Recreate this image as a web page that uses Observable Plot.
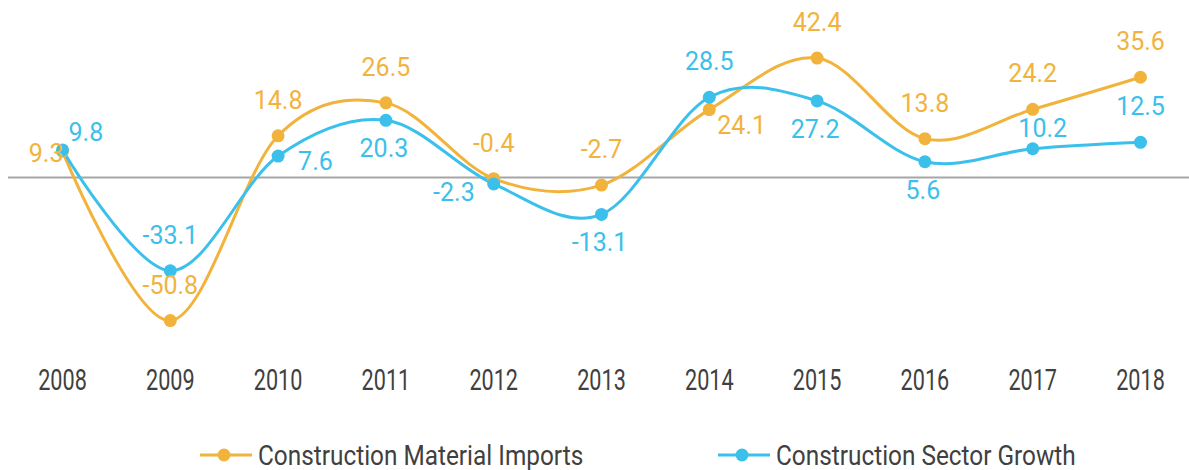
<!DOCTYPE html>
<html>
<head>
<meta charset="utf-8">
<script src="https://cdn.jsdelivr.net/npm/d3@7"></script>
<script src="https://cdn.jsdelivr.net/npm/@observablehq/plot@0.6"></script>
<style>
  html, body { margin: 0; padding: 0; background: #fff; }
  #wrap { position: relative; width: 1189px; height: 470px; font-family: Roboto, sans-serif; }
  .leg { position: absolute; top: 438px; height: 34px; display: flex; align-items: center; font-size: 28px; color: #404040; white-space: nowrap; }
  .leg svg { margin-right: 6px; flex: none; }
  .leg span { display: inline-block; transform: scaleX(0.87); transform-origin: left center; }
</style>
</head>
<body>
<div id="wrap"></div>
<script>
const years = ["2008","2009","2010","2011","2012","2013","2014","2015","2016","2017","2018"];
const seriesNames = ["Construction Material Imports", "Construction Sector Growth"];
const imports = [9.3, -50.8, 14.8, 26.5, -0.4, -2.7, 24.1, 42.4, 13.8, 24.2, 35.6];
const growth  = [9.8, -33.1, 7.6, 20.3, -2.3, -13.1, 28.5, 27.2, 5.6, 10.2, 12.5];
const importsLabelPos = ["left","above","above","above","above","above","lowerRight","above","above","above","above"];
const growthLabelPos  = ["upperRight","above","right","below","lowerLeft","below","above","below","below","aboveRight","above"];

const colors = ["#F2B33D", "#3BC0EB"];
const posStyle = {
  above:      {textAnchor: "middle", dx: 0,   dy: -35},
  below:      {textAnchor: "middle", dx: -2,  dy: 29},
  left:       {textAnchor: "end",    dx: 1,   dy: 3},
  right:      {textAnchor: "start",  dx: 20,  dy: 6},
  upperRight: {textAnchor: "start",  dx: 6,   dy: -17},
  lowerRight: {textAnchor: "start",  dx: 8,   dy: 16},
  lowerLeft:  {textAnchor: "end",    dx: -19, dy: 9},
  aboveRight: {textAnchor: "middle", dx: 10,  dy: -20}
};

const rows = [];
years.forEach((y, i) => {
  rows.push({year: y, series: seriesNames[0], value: imports[i], pos: importsLabelPos[i]});
  rows.push({year: y, series: seriesNames[1], value: growth[i], pos: growthLabelPos[i]});
});

const marks = [Plot.ruleY([0], {stroke: "#A6A6A6", strokeWidth: 2})];
seriesNames.forEach((s, k) => {
  const d = rows.filter(r => r.series === s);
  marks.push(Plot.line(d, {x: "year", y: "value", stroke: colors[k], strokeWidth: 3, curve: "cardinal"}));
});
seriesNames.forEach((s, k) => {
  const d = rows.filter(r => r.series === s);
  marks.push(Plot.dot(d, {x: "year", y: "value", fill: colors[k], r: 6.5}));
});
seriesNames.forEach((s, k) => {
  const d = rows.filter(r => r.series === s);
  for (const [key, st] of Object.entries(posStyle)) {
    const sub = d.filter(r => r.pos === key);
    if (!sub.length) continue;
    marks.push(Plot.text(sub, {
      x: "year", y: "value", text: r => r.value.toFixed(1),
      fill: colors[k], fontSize: 25, lineAnchor: "middle",
      textAnchor: st.textAnchor, dx: st.dx, dy: st.dy
    }));
  }
});
marks.push(Plot.axisX({tickSize: 0, tickPadding: 22, fontSize: 30, ariaLabel: "x-axis"}));

const chart = Plot.plot({
  width: 1189,
  height: 430,
  marginTop: 8,
  marginBottom: 84,
  marginLeft: 8,
  marginRight: 0,
  style: {fontFamily: "Roboto, sans-serif", color: "#404040", background: "#fff"},
  x: {type: "point", domain: years, range: [62, 1140], padding: 0, round: false, label: null},
  y: {domain: [-60, 60], axis: null},
  marks
});
const wrap = document.getElementById("wrap");
wrap.appendChild(chart);

// condense the axis tick labels (reference uses a condensed face)
chart.querySelectorAll('g[aria-label="x-axis"] text, g[aria-label="x-axis tick label"] text').forEach(t => {
  const len = t.getComputedTextLength();
  t.setAttribute("textLength", (len * 0.72).toFixed(1));
  t.setAttribute("lengthAdjust", "spacingAndGlyphs");
});

const legendLeft = [200, 718];
seriesNames.forEach((s, k) => {
  const div = document.createElement("div");
  div.className = "leg";
  div.style.left = legendLeft[k] + "px";
  div.innerHTML = `<svg width="52" height="20"><line x1="0" x2="52" y1="10" y2="10" stroke="${colors[k]}" stroke-width="3"/><circle cx="24" cy="10" r="6.5" fill="${colors[k]}"/></svg><span>${s}</span>`;
  wrap.appendChild(div);
});
</script>
</body>
</html>
